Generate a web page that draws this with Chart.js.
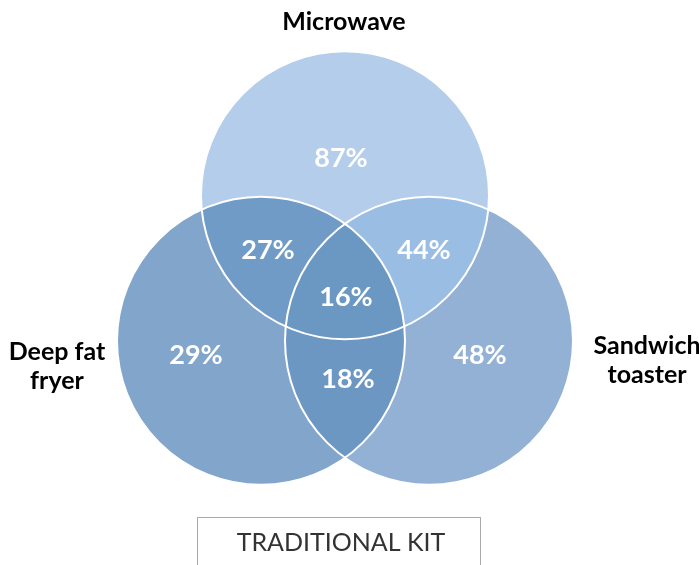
<!DOCTYPE html>
<html lang="en">
<head>
  <meta charset="UTF-8">
  <title>Traditional kit</title>
  <script src="https://cdn.jsdelivr.net/npm/chart.js"></script>
  <style>
    html, body {
      margin: 0;
      padding: 0;
      background: #fff;
    }
    #wrap {
      position: relative;
      width: 699px;
      height: 565px;
    }
  </style>
</head>
<body>
  <div id="wrap">
    <canvas id="venn" width="699" height="565"></canvas>
  </div>

  <script>
    // sets and region shares (%)
    const sets = ['Microwave', 'Deep fat fryer', 'Sandwich toaster'];
    const setLabels = [['Microwave'], ['Deep fat', 'fryer'], ['Sandwich', 'toaster']];
    const onlyValues = [87, 29, 48];          // Microwave, Deep fat fryer, Sandwich toaster
    const pairKeys = [[0, 1], [0, 2], [1, 2]];
    const pairValues = [27, 44, 18];
    const allValue = 16;
    const caption = 'TRADITIONAL KIT';

    // layout (pixel units, the scales below map 1:1 onto the canvas)
    const centre = { x: 345, y: 292.3 };
    const side = 168;
    const radius = 144;
    const h = side / Math.sqrt(3);
    const circleCentres = [
      { x: centre.x, y: centre.y - h },
      { x: centre.x - side / 2, y: centre.y + h / 2 },
      { x: centre.x + side / 2, y: centre.y + h / 2 }
    ];
    const onlyColors = ['#b3cdeb', '#82a5cb', '#93b1d5'];
    const pairColors = ['#6f9bc6', '#99bde3', '#6c97c3'];
    const allColor = '#6b97c3';
    // label offsets from the diagram centre
    const onlyLabelPos = [[-4, -134], [-149, 63], [135, 63]];
    const pairLabelPos = [[-77, -42], [79, -42], [3, 87]];
    const allLabelPos = [1, 5];
    const setLabelPos = [[-1, -270], [-288, 74], [302, 68]];

    const vennPlugin = {
      id: 'venn',
      afterDatasetsDraw(chart) {
        const ctx = chart.ctx;
        const xs = chart.scales.x, ys = chart.scales.y;
        const pts = chart.data.datasets[0].data.map(p => ({
          x: xs.getPixelForValue(p.x),
          y: ys.getPixelForValue(p.y)
        }));
        const r = Math.abs(xs.getPixelForValue(radius) - xs.getPixelForValue(0));
        const path = i => {
          ctx.beginPath();
          ctx.arc(pts[i].x, pts[i].y, r, 0, Math.PI * 2);
        };
        const px = (dx, dy) => ({
          x: xs.getPixelForValue(centre.x + dx),
          y: ys.getPixelForValue(centre.y + dy)
        });

        ctx.save();
        // single sets
        for (let i = 0; i < 3; i++) {
          path(i);
          ctx.fillStyle = onlyColors[i];
          ctx.fill();
        }
        // pairwise overlaps
        pairKeys.forEach(([a, b], k) => {
          ctx.save();
          path(a);
          ctx.clip();
          path(b);
          ctx.fillStyle = pairColors[k];
          ctx.fill();
          ctx.restore();
        });
        // triple overlap
        ctx.save();
        path(0); ctx.clip();
        path(1); ctx.clip();
        path(2);
        ctx.fillStyle = allColor;
        ctx.fill();
        ctx.restore();
        // outlines
        ctx.strokeStyle = '#ffffff';
        ctx.lineWidth = 2;
        for (let i = 0; i < 3; i++) {
          path(i);
          ctx.stroke();
        }

        // values
        ctx.fillStyle = '#ffffff';
        ctx.font = 'bold 27px Lato';
        ctx.textAlign = 'center';
        ctx.textBaseline = 'middle';
        onlyValues.forEach((v, i) => {
          const p = px(onlyLabelPos[i][0], onlyLabelPos[i][1]);
          ctx.fillText(v + '%', p.x, p.y);
        });
        pairValues.forEach((v, i) => {
          const p = px(pairLabelPos[i][0], pairLabelPos[i][1]);
          ctx.fillText(v + '%', p.x, p.y);
        });
        const pc = px(allLabelPos[0], allLabelPos[1]);
        ctx.fillText(allValue + '%', pc.x, pc.y);

        // set names
        ctx.fillStyle = '#000000';
        ctx.font = 'bold 25px Lato';
        setLabels.forEach((lines, i) => {
          const p = px(setLabelPos[i][0], setLabelPos[i][1]);
          lines.forEach((t, j) => {
            ctx.fillText(t, p.x, p.y + (j - (lines.length - 1) / 2) * 29);
          });
        });

        // caption box
        ctx.strokeStyle = '#aaaaaa';
        ctx.lineWidth = 1;
        ctx.strokeRect(197.5, 517.5, 283, 60);
        ctx.fillStyle = '#333333';
        ctx.font = '25px Lato';
        ctx.fillText(caption, 341, 543);
        ctx.restore();
      }
    };

    new Chart(document.getElementById('venn'), {
      type: 'scatter',
      data: {
        datasets: [{
          label: 'sets',
          data: circleCentres.map((c, i) => ({ x: c.x, y: c.y, name: sets[i] })),
          pointRadius: 0
        }]
      },
      options: {
        responsive: false,
        animation: false,
        layout: { padding: 0 },
        scales: {
          x: { type: 'linear', min: 0, max: 699, display: false },
          y: { type: 'linear', min: 0, max: 565, reverse: true, display: false }
        },
        plugins: {
          legend: { display: false },
          tooltip: { enabled: false }
        }
      },
      plugins: [vennPlugin]
    });
  </script>
</body>
</html>
